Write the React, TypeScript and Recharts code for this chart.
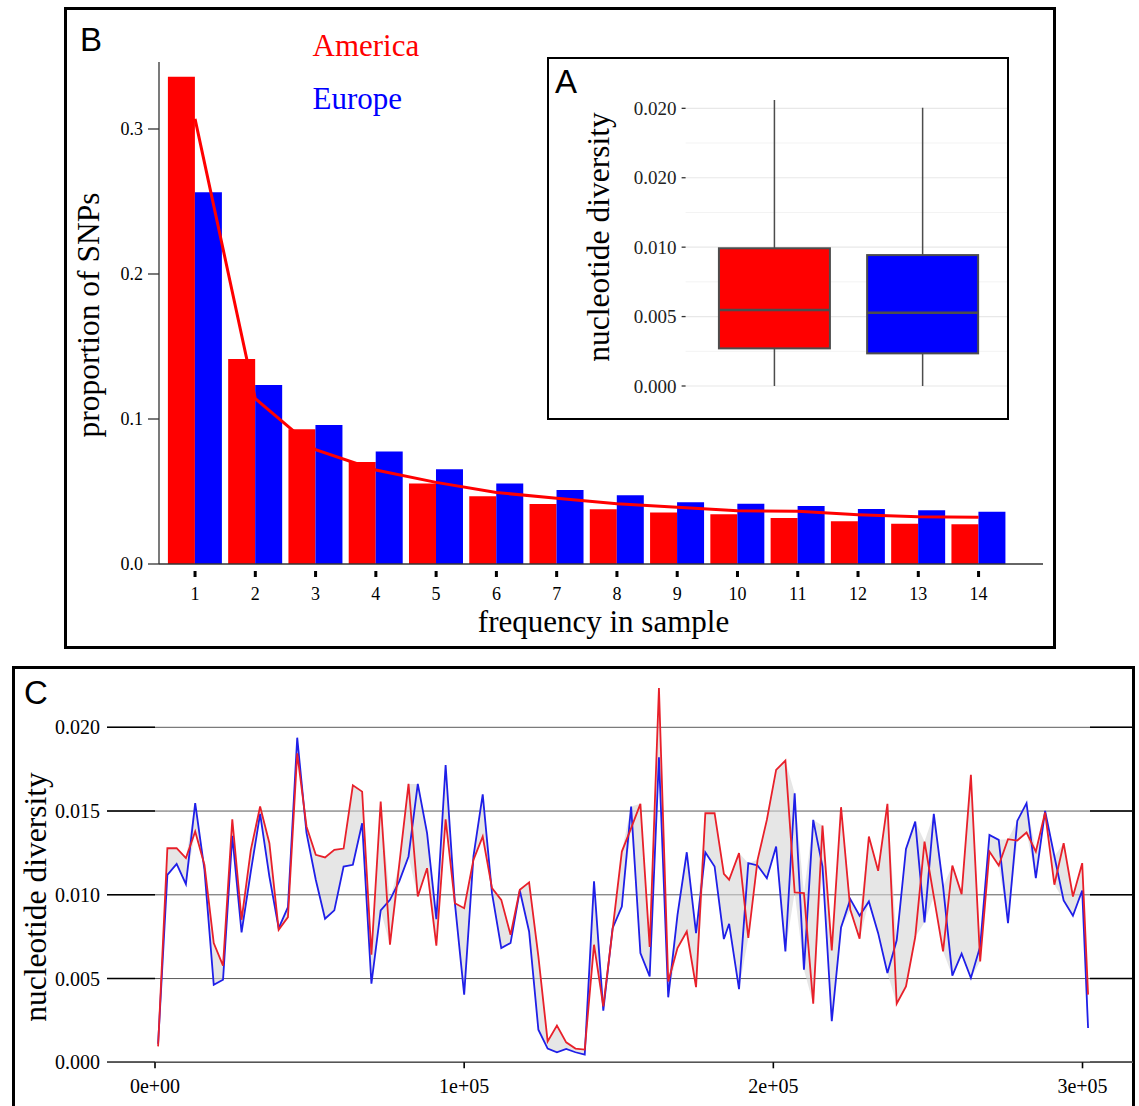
import React from 'react';
import {
  ComposedChart,
  BarChart,
  Bar,
  Line,
  Area,
  XAxis,
  YAxis,
  CartesianGrid,
  ReferenceLine,
} from 'recharts';

const SERIF = '"Liberation Serif", "Times New Roman", serif';
const SANS = '"Liberation Sans", Arial, sans-serif';

// ---------- Panel B: site frequency spectrum ----------
const freqCategories = ['1', '2', '3', '4', '5', '6', '7', '8', '9', '10', '11', '12', '13', '14'];
const americaSfs = [0.336, 0.1414, 0.093, 0.0704, 0.0556, 0.0468, 0.0414, 0.0377, 0.0356, 0.0343, 0.0317, 0.0294, 0.0278, 0.0274];
const europeSfs = [0.2563, 0.1234, 0.0958, 0.0775, 0.0654, 0.0555, 0.051, 0.0474, 0.0425, 0.0416, 0.04, 0.0379, 0.037, 0.0361];
const expectedSfs = [0.307, 0.114, 0.0789, 0.0648, 0.0563, 0.0493, 0.0453, 0.0416, 0.0391, 0.0368, 0.0363, 0.034, 0.0326, 0.0322];
const sfsTicks = [0, 0.1, 0.2, 0.3];
const sfsTickLabels = ['0.0', '0.1', '0.2', '0.3'];

// ---------- Panel A: boxplots ----------
const popNames = ['America', 'Europe'];
const boxMin = [0, 0];
const boxQ1 = [0.00271, 0.00235];
const boxMedian = [0.00547, 0.00528];
const boxQ3 = [0.00992, 0.00943];
const boxMax = [0.0206, 0.02004];
const boxColors = ['#ff0000', '#0000ff'];
const insetTicks = [0, 0.005, 0.01, 0.015, 0.02];
const insetTickLabels = ['0.000', '0.005', '0.010', '0.020', '0.020'];
const insetMinorTicks = [0.0025, 0.0075, 0.0125, 0.0175];

// ---------- Panel C: diversity along the sequence ----------
const windowPositions = [
  1000, 4000, 7000, 10000, 13000, 16000, 19000, 22000, 25000, 28000,
  31000, 34000, 37000, 40000, 43000, 46000, 49000, 52000, 55000, 58000,
  61000, 64000, 67000, 70000, 73000, 76000, 79000, 82000, 85000, 88000,
  91000, 94000, 97000, 100000, 103000, 106000, 109000, 112000, 115000, 118000,
  121000, 124000, 127000, 130000, 133000, 136000, 139000, 142000, 145000, 148000,
  151000, 154000, 157000, 160000, 163000, 166000, 169000, 172000, 175000, 178000,
  181000, 184000, 185700,
  188900, 191900, 194900, 197900, 200900, 203900, 206900, 209900, 212900, 215900,
  218900, 221900, 224900, 227900, 230900, 233900, 236900, 239900, 242900, 245900,
  248900, 251900, 254900, 257900, 260900, 263900, 266900, 269900, 272900, 275900,
  278900, 281900, 284900, 287900, 290900, 293900, 296900, 299900,
  301800,
];
const americaPi = [
  0.00095, 0.01278, 0.01278, 0.01219, 0.01378, 0.01179, 0.00712, 0.00577, 0.01451, 0.00851,
  0.01268, 0.01527, 0.01308, 0.00791, 0.00867, 0.01845, 0.01408, 0.01239, 0.01223, 0.01268,
  0.01276, 0.01654, 0.01616, 0.00642, 0.01557, 0.00702, 0.0118, 0.01662, 0.0099, 0.01159,
  0.00696, 0.01451, 0.0095, 0.0092, 0.01209, 0.01348, 0.0104, 0.0097, 0.00761, 0.0103,
  0.01074, 0.00632, 0.00125, 0.00219, 0.00119, 0.00082, 0.00076, 0.00702, 0.00334, 0.00791,
  0.01258, 0.01398, 0.01543, 0.00688, 0.02235, 0.00483, 0.00682, 0.00781, 0.00449, 0.01487,
  0.01487, 0.01125, 0.0109, 0.01249, 0.00742, 0.01209, 0.01447, 0.01746, 0.01801, 0.01014,
  0.0101, 0.0035, 0.01414, 0.00668, 0.01523, 0.0091, 0.00738, 0.01348, 0.01143, 0.01543,
  0.0035, 0.00453, 0.00748, 0.01318, 0.0099, 0.00662, 0.01175, 0.01004, 0.01716, 0.00602,
  0.01258, 0.01175, 0.01332, 0.01324, 0.01372, 0.01258, 0.01491, 0.0106, 0.01308, 0.0099,
  0.01189, 0.00404,
];
const europePi = [
  0.0011, 0.01119, 0.01185, 0.01064, 0.01547, 0.01149, 0.00463, 0.00493, 0.01352, 0.00775,
  0.0114, 0.01483, 0.01109, 0.00801, 0.00926, 0.01938, 0.0137, 0.0109, 0.00857, 0.00907,
  0.01169, 0.01179, 0.01427, 0.00469, 0.00907, 0.0097, 0.0108, 0.01229, 0.01662, 0.01368,
  0.00855, 0.01775, 0.0095, 0.00404, 0.01229, 0.016, 0.0101, 0.00682, 0.00712, 0.01026,
  0.00781, 0.00195, 0.00082, 0.0006, 0.0008, 0.0006, 0.00046, 0.0108, 0.00308, 0.00801,
  0.0093, 0.01527, 0.00652, 0.00513, 0.01821, 0.00388, 0.0088, 0.01254, 0.00771, 0.01254,
  0.01169, 0.00736, 0.00827, 0.00437, 0.01189, 0.01175, 0.01099, 0.01288, 0.00662, 0.01606,
  0.00553, 0.01447, 0.01169, 0.00245, 0.00805, 0.00974, 0.00875, 0.0096, 0.00771, 0.00533,
  0.00728, 0.01274, 0.01437, 0.00835, 0.01483, 0.0105, 0.00517, 0.00648, 0.00503, 0.00692,
  0.01358, 0.01328, 0.00831, 0.01441, 0.01547, 0.01099, 0.01501, 0.0123, 0.00966, 0.00875,
  0.01026, 0.00205,
];
const piTicks = [0, 0.005, 0.01, 0.015, 0.02];
const piTickLabels = ['0.000', '0.005', '0.010', '0.015', '0.020'];
const positionTicks = [0, 100000, 200000, 300000];
const positionTickLabels = ['0e+00', '1e+05', '2e+05', '3e+05'];

// ---------- derived tables ----------
const sfsData = freqCategories.map((c, i) => ({
  freq: c,
  america: americaSfs[i],
  europe: europeSfs[i],
  expected: expectedSfs[i],
}));

const boxData = popNames.map((p, i) => ({
  pop: p,
  box: [boxQ1[i], boxQ3[i]],
  min: boxMin[i],
  q1: boxQ1[i],
  med: boxMedian[i],
  q3: boxQ3[i],
  max: boxMax[i],
  color: boxColors[i],
}));

const piData = windowPositions.map((p, i) => ({
  pos: p,
  america: americaPi[i],
  europe: europePi[i],
  band: [Math.min(americaPi[i], europePi[i]), Math.max(americaPi[i], europePi[i])],
}));

const C_XMIN = -15526;
const C_XMAX = 316331;
const C_RIGHT_TICK_START = 302423;

const SfsXTick = (props: any) => {
  const { x, y, payload } = props;
  return (
    <g>
      <rect x={x - 1.5} y={y + 7} width={3} height={6} fill="#000" />
      <text x={x} y={y + 36} textAnchor="middle" fontFamily={SERIF} fontSize={18} fill="#000">
        {payload.value}
      </text>
    </g>
  );
};

const BoxShape = (props: any) => {
  const { x, y, width, height, payload } = props;
  const top = Math.min(y, y + height);
  const h = Math.abs(height);
  const ppu = h / (payload.q3 - payload.q1);
  const bottom = top + h;
  const cx = x + width / 2;
  const yMax = top - (payload.max - payload.q3) * ppu;
  const yMin = bottom + (payload.q1 - payload.min) * ppu;
  const yMed = top + (payload.q3 - payload.med) * ppu;
  return (
    <g>
      <line x1={cx} x2={cx} y1={yMax} y2={top} stroke="#4d4d4d" strokeWidth={1.5} />
      <line x1={cx} x2={cx} y1={bottom} y2={yMin} stroke="#4d4d4d" strokeWidth={1.5} />
      <rect x={x} y={top} width={width} height={h} fill={payload.color} stroke="#4d4d4d" strokeWidth={2} />
      <line x1={x} x2={x + width} y1={yMed} y2={yMed} stroke="#4d4d4d" strokeWidth={2.5} />
    </g>
  );
};

export default function App() {
  return (
    <div
      style={{
        position: 'absolute',
        left: 0,
        top: 0,
        width: 1139,
        height: 1106,
        overflow: 'hidden',
        background: '#fff',
        fontFamily: SERIF,
      }}
    >
      {/* Panel B box */}
      <div
        style={{
          position: 'absolute',
          left: 64,
          top: 7,
          width: 992,
          height: 642,
          border: '3.5px solid #000',
          boxSizing: 'border-box',
        }}
      />
      {/* Panel B chart */}
      <div style={{ position: 'absolute', left: 0, top: 0 }}>
        <ComposedChart
          width={1139}
          height={660}
          data={sfsData}
          margin={{ top: 62, right: 96, bottom: 56, left: 99 }}
          barCategoryGap={3}
          barGap={0}
        >
          <XAxis
            dataKey="freq"
            interval={0}
            padding={{ left: 5.9, right: 34.3 }}
            axisLine={{ stroke: '#333', strokeWidth: 1.3 }}
            tickLine={false}
            tickSize={0}
            tickMargin={0}
            height={40}
            tick={<SfsXTick />}
          />
          <YAxis
            type="number"
            domain={[0, 0.3462]}
            allowDataOverflow
            ticks={sfsTicks}
            tickFormatter={(v: number) => sfsTickLabels[sfsTicks.indexOf(v)] ?? ''}
            width={60}
            tickSize={11}
            tickMargin={5}
            axisLine={{ stroke: '#333', strokeWidth: 1.3 }}
            tickLine={{ stroke: '#333', strokeWidth: 1.3 }}
            tick={{ fontFamily: SERIF, fontSize: 18, fill: '#000' }}
          />
          <Bar dataKey="america" fill="#ff0000" isAnimationActive={false} />
          <Bar dataKey="europe" fill="#0000ff" isAnimationActive={false} />
          <Line
            dataKey="expected"
            type="linear"
            stroke="#ff0000"
            strokeWidth={3}
            dot={false}
            activeDot={false}
            isAnimationActive={false}
          />
        </ComposedChart>
      </div>

      {/* Panel A inset */}
      <div
        style={{
          position: 'absolute',
          left: 547,
          top: 57,
          width: 462,
          height: 363,
          border: '2px solid #000',
          boxSizing: 'border-box',
          background: '#fff',
          overflow: 'hidden',
        }}
      >
        <BarChart
          width={480}
          height={360}
          data={boxData}
          margin={{ top: 26.7, right: 17.4, bottom: 18.7, left: 76.6 }}
          barCategoryGap="12.5%"
        >
          <CartesianGrid
            vertical={false}
            horizontalValues={insetMinorTicks}
            stroke="#f3f3f3"
            strokeWidth={1}
          />
          <CartesianGrid
            vertical={false}
            horizontalValues={insetTicks}
            stroke="#e8e8e8"
            strokeWidth={1.2}
          />
          <XAxis dataKey="pop" hide padding={{ left: 14.8, right: 14.8 }} />
          <YAxis
            type="number"
            domain={[-0.00103, 0.02163]}
            allowDataOverflow
            ticks={insetTicks}
            tickFormatter={(v: number) => insetTickLabels[insetTicks.indexOf(v)] ?? ''}
            width={60}
            tickSize={4}
            tickMargin={5}
            axisLine={false}
            tickLine={{ stroke: '#333', strokeWidth: 1.3 }}
            tick={{ fontFamily: SERIF, fontSize: 19, fill: '#222' }}
          />
          <Bar dataKey="box" shape={<BoxShape />} isAnimationActive={false} />
        </BarChart>
      </div>

      {/* Panel C box */}
      <div
        style={{
          position: 'absolute',
          left: 12,
          top: 666,
          width: 1123,
          height: 470,
          border: '3px solid #000',
          boxSizing: 'border-box',
        }}
      />
      {/* Panel C chart */}
      <div style={{ position: 'absolute', left: 0, top: 660 }}>
        <ComposedChart
          width={1139}
          height={446}
          data={piData}
          margin={{ top: 10.35, right: 6, bottom: 3.7, left: 47 }}
        >
          <CartesianGrid
            vertical={false}
            horizontalValues={piTicks}
            stroke="#5a5a5a"
            strokeWidth={1}
          />
          {piTicks.map((t) => (
            <ReferenceLine
              key={'l' + t}
              segment={[
                { x: C_XMIN, y: t },
                { x: 0, y: t },
              ]}
              stroke="#000"
              strokeWidth={1.6}
            />
          ))}
          {piTicks.map((t) => (
            <ReferenceLine
              key={'r' + t}
              segment={[
                { x: C_RIGHT_TICK_START, y: t },
                { x: C_XMAX, y: t },
              ]}
              stroke="#000"
              strokeWidth={1.6}
            />
          ))}
          <XAxis
            dataKey="pos"
            type="number"
            domain={[C_XMIN, C_XMAX]}
            allowDataOverflow
            ticks={positionTicks}
            tickFormatter={(v: number) => positionTickLabels[positionTicks.indexOf(v)] ?? ''}
            height={40}
            tickSize={6}
            tickMargin={10}
            axisLine={{ stroke: '#555', strokeWidth: 1.5 }}
            tickLine={{ stroke: '#000', strokeWidth: 1.6 }}
            tick={{ fontFamily: SERIF, fontSize: 20, fill: '#000' }}
          />
          <YAxis
            type="number"
            domain={[0, 0.0234]}
            allowDataOverflow
            ticks={piTicks}
            tickFormatter={(v: number) => piTickLabels[piTicks.indexOf(v)] ?? ''}
            width={60}
            tickSize={0}
            tickMargin={7}
            axisLine={false}
            tickLine={false}
            tick={{ fontFamily: SERIF, fontSize: 20, fill: '#000' }}
          />
          <Area
            dataKey="band"
            type="linear"
            fill="#d6d6d6"
            fillOpacity={0.6}
            stroke="none"
            activeDot={false}
            isAnimationActive={false}
          />
          <Line
            dataKey="europe"
            type="linear"
            stroke="#1f1fe8"
            strokeWidth={1.8}
            dot={false}
            activeDot={false}
            isAnimationActive={false}
          />
          <Line
            dataKey="america"
            type="linear"
            stroke="#e8202a"
            strokeWidth={1.8}
            dot={false}
            activeDot={false}
            isAnimationActive={false}
          />
        </ComposedChart>
      </div>

      {/* Text overlay */}
      <svg
        width={1139}
        height={1106}
        style={{ position: 'absolute', left: 0, top: 0, pointerEvents: 'none' }}
      >
        <text x={80} y={51} fontFamily={SANS} fontSize={33} fill="#000">B</text>
        <text x={312.5} y={56} fontFamily={SERIF} fontSize={31} fill="#ff0000">America</text>
        <text x={312.5} y={109} fontFamily={SERIF} fontSize={31} fill="#0000ff">Europe</text>
        <text x={603.5} y={632} textAnchor="middle" fontFamily={SERIF} fontSize={31} fill="#000">
          frequency in sample
        </text>
        <text
          transform="translate(99,315) rotate(-90)"
          textAnchor="middle"
          fontFamily={SERIF}
          fontSize={31.5}
          fill="#000"
        >
          proportion of SNPs
        </text>
        <text x={555} y={93} fontFamily={SANS} fontSize={33} fill="#000">A</text>
        <text
          transform="translate(609,237) rotate(-90)"
          textAnchor="middle"
          fontFamily={SERIF}
          fontSize={31.5}
          fill="#000"
        >
          nucleotide diversity
        </text>
        <text x={24} y={704} fontFamily={SANS} fontSize={33} fill="#000">C</text>
        <text
          transform="translate(46,897) rotate(-90)"
          textAnchor="middle"
          fontFamily={SERIF}
          fontSize={31.5}
          fill="#000"
        >
          nucleotide diversity
        </text>
      </svg>
    </div>
  );
}
